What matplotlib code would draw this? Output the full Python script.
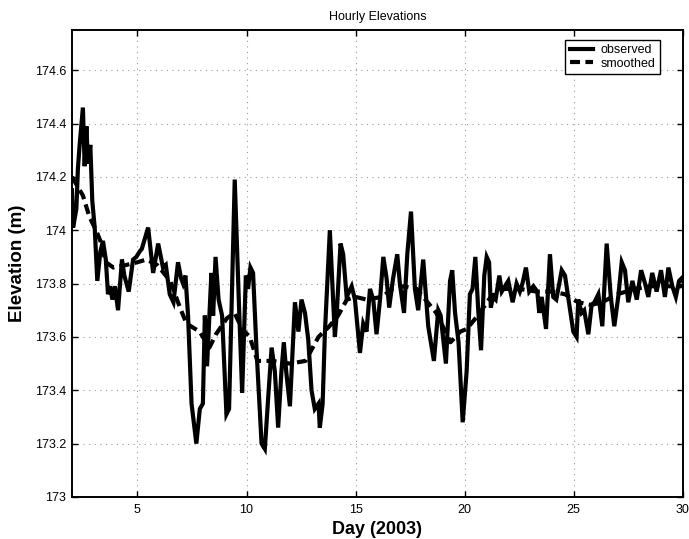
import matplotlib
matplotlib.use("Agg")
import matplotlib.pyplot as plt
from matplotlib.ticker import FuncFormatter

plt.rcParams['font.family'] = ['Liberation Sans', 'DejaVu Sans']

obs_day = [2.0, 2.05, 2.2, 2.27, 2.35, 2.5, 2.58, 2.66, 2.73, 2.84, 2.93, 3.04, 3.16, 3.30, 3.42,
           3.55, 3.65, 3.75, 3.85, 3.97, 4.11, 4.29, 4.40, 4.60, 4.80, 4.95, 5.10, 5.20, 5.49, 5.72,
           5.95, 6.17, 6.30, 6.48, 6.65, 6.86, 7.0, 7.09, 7.2, 7.32, 7.48, 7.70, 7.86, 8.0, 8.09,
           8.19, 8.39, 8.47, 8.58, 8.72, 8.88, 9.08, 9.20, 9.46, 9.65, 9.80, 9.97, 10.07, 10.18, 10.30,
           10.46, 10.69, 10.84, 11.0, 11.15, 11.3, 11.45, 11.6, 11.71, 11.82, 11.99, 12.22, 12.38, 12.52,
           12.68, 12.83, 12.98, 13.13, 13.30, 13.36, 13.49, 13.59, 13.82, 14.05, 14.13, 14.31, 14.43,
           14.59, 14.82, 14.97, 15.2, 15.35, 15.5, 15.66, 15.81, 15.96, 16.12, 16.27, 16.42, 16.54,
           16.72, 16.91, 17.03, 17.22, 17.37, 17.54, 17.72, 17.87, 18.1, 18.33, 18.59, 18.79, 18.9,
           19.14, 19.33, 19.43, 19.56, 19.72, 19.91, 20.09, 20.24, 20.36, 20.49, 20.63, 20.75, 20.9,
           21.01, 21.12, 21.2, 21.3, 21.42, 21.59, 21.7, 21.85, 22.0, 22.2, 22.38, 22.53, 22.65, 22.81,
           22.96, 23.15, 23.33, 23.42, 23.53, 23.73, 23.91, 24.06, 24.2, 24.45, 24.6, 24.78, 24.98,
           25.13, 25.21, 25.36, 25.48, 25.67, 25.82, 25.95, 26.13, 26.31, 26.51, 26.7, 26.86, 27.04,
           27.2, 27.35, 27.5, 27.69, 27.89, 28.09, 28.27, 28.42, 28.6, 28.8, 29.0, 29.18, 29.34, 29.52,
           29.68, 29.83, 29.95, 30.0]
obs_elev = [174.15, 174.01, 174.08, 174.23, 174.32, 174.46, 174.24, 174.39, 174.25, 174.32, 174.11,
            174.01, 173.81, 173.92, 173.96, 173.89, 173.76, 173.79, 173.74, 173.79, 173.70, 173.89,
            173.83, 173.77, 173.89, 173.90, 173.92, 173.93, 174.01, 173.84, 173.95, 173.86, 173.87,
            173.76, 173.73, 173.88, 173.82, 173.80, 173.83, 173.68, 173.35, 173.20, 173.33, 173.35,
            173.68, 173.49, 173.84, 173.68, 173.90, 173.74, 173.68, 173.31, 173.33, 174.19, 173.73,
            173.39, 173.83, 173.78, 173.86, 173.84, 173.55, 173.20, 173.18, 173.38, 173.56, 173.47,
            173.26, 173.47, 173.58, 173.47, 173.34, 173.73, 173.62, 173.74, 173.69, 173.59, 173.40,
            173.33, 173.35, 173.26, 173.35, 173.61, 174.00, 173.60, 173.68, 173.95, 173.91, 173.75,
            173.79, 173.74, 173.54, 173.65, 173.62, 173.78, 173.74, 173.61, 173.74, 173.90, 173.82,
            173.71, 173.82, 173.91, 173.80, 173.69, 173.91, 174.07, 173.78, 173.70, 173.89, 173.64,
            173.51, 173.70, 173.68, 173.50, 173.81, 173.85, 173.69, 173.58, 173.28, 173.47, 173.76,
            173.78, 173.90, 173.69, 173.55, 173.83, 173.90, 173.88, 173.71, 173.75, 173.74, 173.83,
            173.77, 173.79, 173.81, 173.73, 173.80, 173.77, 173.80, 173.86, 173.77, 173.79, 173.77,
            173.69, 173.75, 173.63, 173.91, 173.75, 173.74, 173.85, 173.83, 173.73, 173.62, 173.60,
            173.74, 173.69, 173.70, 173.61, 173.72, 173.73, 173.76, 173.64, 173.95, 173.75, 173.64,
            173.75, 173.88, 173.85, 173.73, 173.81, 173.74, 173.85, 173.80, 173.75, 173.84, 173.77,
            173.85, 173.75, 173.86, 173.79, 173.75, 173.81, 173.82, 173.81]

sm_day = [2.0, 2.5, 2.8, 3.1, 3.3, 3.55, 3.9, 4.5, 5.0, 5.4, 5.9, 6.5, 6.95, 7.25, 7.85, 8.3, 8.6,
          9.1, 9.45, 9.8, 10.15, 10.5, 11.2, 12.0, 12.7, 12.9, 13.3, 13.8, 14.2, 14.6, 15.0, 15.5,
          16.2, 16.7, 17.2, 17.8, 18.3, 18.7, 19.35, 19.8, 20.1, 20.6, 21.2, 21.8, 22.5, 23.3, 24.0,
          24.6, 25.2, 25.8, 26.3, 27.0, 27.8, 28.5, 29.3, 30.0]
sm_elev = [174.20, 174.13, 174.05, 174.00, 173.96, 173.88, 173.86, 173.87, 173.88, 173.89, 173.87,
           173.81, 173.71, 173.65, 173.62, 173.56, 173.61, 173.67, 173.69, 173.63, 173.60, 173.51,
           173.51, 173.50, 173.51, 173.54, 173.60, 173.64, 173.68, 173.74, 173.75, 173.74, 173.75,
           173.78, 173.79, 173.78, 173.73, 173.69, 173.58, 173.62, 173.63, 173.68, 173.75, 173.78,
           173.78, 173.77, 173.77, 173.76, 173.73, 173.72, 173.73, 173.76, 173.78, 173.79, 173.79,
           173.79]

x_ticks = [5, 10, 15, 20, 25, 30]
y_ticks = [173, 173.2, 173.4, 173.6, 173.8, 174, 174.2, 174.4, 174.6]

fig = plt.figure(figsize=(6.89, 5.39), dpi=100)
ax = fig.add_axes([0.1045, 0.078, 0.8865, 0.866])

ax.plot(obs_day, obs_elev, color='black', linewidth=3.0, label='observed', solid_joinstyle='miter')
ax.plot(sm_day, sm_elev, color='black', linewidth=3.0, linestyle=(0, (2.4, 1.3)), label='smoothed')

ax.set_xlim(2, 30)
ax.set_ylim(173, 174.75)
ax.set_xticks(x_ticks)
ax.set_yticks(y_ticks)
ax.yaxis.set_major_formatter(FuncFormatter(lambda v, p: '%g' % round(v, 1)))
ax.tick_params(direction='in', top=True, right=True, labelsize=9, length=4, width=1)
ax.tick_params(axis='x', pad=5)
ax.tick_params(axis='y', pad=4.3)
ax.grid(True, linestyle=(0, (1, 4)), color='#999999', linewidth=0.8)
for s in ax.spines.values():
    s.set_linewidth(1.4)

ax.set_xlabel('Day (2003)', fontsize=13, fontweight='bold', labelpad=4)
ax.set_ylabel('Elevation (m)', fontsize=13.5, fontweight='bold', labelpad=6)
ax.set_title('Hourly Elevations', fontsize=9, pad=7)

leg = ax.legend(loc='upper right', bbox_to_anchor=(0.962, 0.980), borderaxespad=0,
                fontsize=9, fancybox=False, framealpha=1, edgecolor='black',
                handlelength=1.9, handletextpad=0.55, borderpad=0.35, labelspacing=0.15)
leg.get_frame().set_linewidth(1.0)

fig.savefig('out.png', dpi=100)
